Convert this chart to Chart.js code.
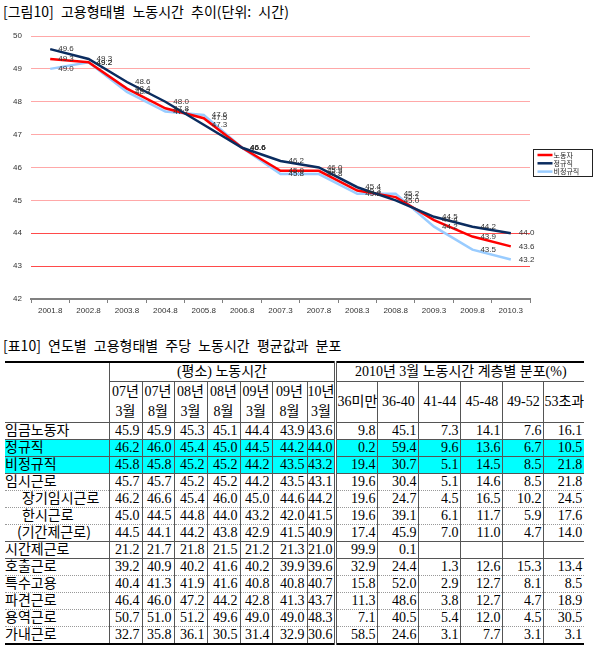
<!DOCTYPE html>
<html><head><meta charset="utf-8">
<script src="https://cdn.jsdelivr.net/npm/chart.js@4.4.1/dist/chart.umd.min.js"></script>
<style>
html,body{margin:0;padding:0;}
body{width:598px;height:648px;background:#fff;position:relative;overflow:hidden;font-family:"Liberation Serif","Noto Sans CJK KR",serif;color:#000;}
.ttl{position:absolute;left:3px;font-size:14px;line-height:16px;white-space:nowrap;word-spacing:4px;font-family:"Noto Sans CJK KR",sans-serif;}
#wrap{position:absolute;left:0;top:20px;width:598px;height:305px;}
table{position:absolute;left:5px;top:361px;border-collapse:collapse;table-layout:fixed;font-size:14px;border-top:2px solid #000;border-bottom:2px solid #000;}
td{padding:0 2px 0 0;white-space:nowrap;overflow:hidden;text-align:right;height:16px;line-height:16px;border-left:1px solid #555;border-top:1px dotted #999;}
td.lab{text-align:left;border-left:none;font-family:"Noto Sans CJK KR",sans-serif;padding:0;overflow:visible;}
td.lab span{display:block;height:16px;line-height:16px;transform:translateY(-2px);}
td.first{border-left:1px solid #555;}
td.sep{border-left:3px double #555;}
tr.solid td{border-top:1px solid #555;}
tr.cy td{background:#00ffff;}
tr.h1 td{height:18px;line-height:18px;text-align:center;border-top:none;border-bottom:1px solid #555;padding:0;}
tr.h2 td{height:40px;line-height:20px;text-align:center;border-top:1px solid #555;border-bottom:1px solid #555;padding:0;}
td.hl{border-left:none;}
</style></head>
<body>
<div class="ttl" style="top:3px">[그림10] 고용형태별 노동시간 추이(단위: 시간)</div>
<div id="wrap"><canvas id="c1" width="598" height="305"></canvas></div>
<div class="ttl" style="top:337px">[표10] 연도별 고용형태별 주당 노동시간 평균값과 분포</div>
<table id="tbl"></table>
<script>
// ---------- chart data ----------
const categories = ['2001.8','2002.8','2003.8','2004.8','2005.8','2006.8','2007.3','2007.8','2008.3','2008.8','2009.3','2009.8','2010.3'];
const seriesNames = ['노동자','정규직','비정규직'];
const workers    = [49.3,49.2,48.4,47.8,47.5,46.6,45.9,45.9,45.3,45.1,44.4,43.9,43.6];
const regular    = [49.6,49.3,48.6,48.0,47.3,46.6,46.2,46.0,45.4,45.0,44.5,44.2,44.0];
const nonRegular = [49.0,49.2,48.3,47.7,47.6,46.6,45.8,45.8,45.2,45.2,44.2,43.5,43.2];
const yMin = 42, yMax = 50, yStep = 1;

// ---------- table data ----------
const periodHeaders = [['07년','3월'],['07년','8월'],['08년','3월'],['08년','8월'],['09년','3월'],['09년','8월'],['10년','3월']];
const bandHeaders = ['36미만','36-40','41-44','45-48','49-52','53초과'];
const groupHeaders = ['(평소) 노동시간','2010년 3월 노동시간 계층별 분포(%)'];
const rowLabels = ['임금노동자','정규직','비정규직','임시근로','장기임시근로','한시근로','(기간제근로)','시간제근로','호출근로','특수고용','파견근로','용역근로','가내근로'];
const rowHours = [
 [45.9,45.9,45.3,45.1,44.4,43.9,43.6],
 [46.2,46.0,45.4,45.0,44.5,44.2,44.0],
 [45.8,45.8,45.2,45.2,44.2,43.5,43.2],
 [45.7,45.7,45.2,45.2,44.2,43.5,43.1],
 [46.2,46.6,45.4,46.0,45.0,44.6,44.2],
 [45.0,44.5,44.8,44.0,43.2,42.0,41.5],
 [44.5,44.1,44.2,43.8,42.9,41.5,40.9],
 [21.2,21.7,21.8,21.5,21.2,21.3,21.0],
 [39.2,40.9,40.2,41.6,40.2,39.9,39.6],
 [40.4,41.3,41.9,41.6,40.8,40.8,40.7],
 [46.4,46.0,47.2,44.2,42.8,41.3,43.7],
 [50.7,51.0,51.2,49.6,49.0,49.0,48.3],
 [32.7,35.8,36.1,30.5,31.4,32.9,30.6]
];
const rowBands = [
 [9.8,45.1,7.3,14.1,7.6,16.1],
 [0.2,59.4,9.6,13.6,6.7,10.5],
 [19.4,30.7,5.1,14.5,8.5,21.8],
 [19.6,30.4,5.1,14.6,8.5,21.8],
 [19.6,24.7,4.5,16.5,10.2,24.5],
 [19.6,39.1,6.1,11.7,5.9,17.6],
 [17.4,45.9,7.0,11.0,4.7,14.0],
 [99.9,0.1,null,null,null,null],
 [32.9,24.4,1.3,12.6,15.3,13.4],
 [15.8,52.0,2.9,12.7,8.1,8.5],
 [11.3,48.6,3.8,12.7,4.7,18.9],
 [7.1,40.5,5.4,12.0,4.5,30.5],
 [58.5,24.6,3.1,7.7,3.1,3.1]
];

// ---------- build table ----------
(function(){
  const colW = [104,33,32,33,33,32,35,28,42,41,42,42,41,40];
  const indent = {4:17,5:17,6:12};
  const cyanRows = [1,2];
  const solidAbove = [1,2,3,7,8];
  let h = '<colgroup>' + colW.map(w=>'<col style="width:'+w+'px">').join('') + '</colgroup>';
  h += '<tr class="h1"><td class="lab hl" rowspan="2" style="border-bottom:1px solid #555"></td><td class="first" colspan="7">'+groupHeaders[0]+'</td><td class="sep" colspan="6">'+groupHeaders[1]+'</td></tr>';
  h += '<tr class="h2">';
  periodHeaders.forEach((p,i)=>{ h += '<td'+(i===0?' class="first"':'')+'>'+p[0]+'<br>'+p[1]+'</td>'; });
  bandHeaders.forEach((b,i)=>{ h += '<td'+(i===0?' class="sep"':'')+'>'+b+'</td>'; });
  h += '</tr>';
  rowLabels.forEach((lab,r)=>{
    const cls = [];
    if (cyanRows.includes(r)) cls.push('cy');
    if (solidAbove.includes(r)) cls.push('solid');
    h += '<tr class="'+cls.join(' ')+'"><td class="lab" style="padding-left:'+(indent[r]||0)+'px"><span>'+lab+'</span></td>';
    rowHours[r].forEach((v,i)=>{ h += '<td'+(i===0?' class="first"':'')+'>'+v.toFixed(1)+'</td>'; });
    rowBands[r].forEach((v,i)=>{ h += '<td'+(i===0?' class="sep"':'')+'>'+(v===null?'':v.toFixed(1))+'</td>'; });
    h += '</tr>';
  });
  document.getElementById('tbl').innerHTML = h;
})();

// ---------- chart ----------
const valueLabels = {
  id:'valueLabels',
  afterDatasetsDraw(chart){
    const ctx = chart.ctx;
    ctx.save();
    ctx.font = '8px "Liberation Sans", Arial, sans-serif';
    ctx.fillStyle = '#333';
    ctx.textBaseline = 'middle';
    ctx.textAlign = 'left';
    chart.data.datasets.forEach((ds,i)=>{
      const meta = chart.getDatasetMeta(i);
      meta.data.forEach((pt,j)=>{ ctx.fillText(ds.data[j].toFixed(1), pt.x+8, pt.y); });
    });
    ctx.restore();
  }
};
const boxLegend = {
  id:'boxLegend',
  afterDraw(chart){
    const ctx = chart.ctx, a = chart.chartArea;
    const x = a.right + 3.5, y = 129.5, w = 59, h = 27;
    ctx.save();
    ctx.strokeStyle = '#222'; ctx.lineWidth = 1;
    ctx.strokeRect(x, y, w, h);
    ctx.font = '7px "Noto Sans CJK KR", sans-serif';
    ctx.textBaseline = 'middle'; ctx.textAlign = 'left'; ctx.fillStyle = '#222';
    chart.data.datasets.forEach((ds,i)=>{
      const yy = y + 5.5 + i*8.3;
      ctx.strokeStyle = ds.borderColor; ctx.lineWidth = 2.5;
      ctx.beginPath(); ctx.moveTo(x+4, yy); ctx.lineTo(x+19, yy); ctx.stroke();
      ctx.fillText(ds.label, x+20, yy);
    });
    ctx.restore();
  }
};

new Chart(document.getElementById('c1'), {
  type:'line',
  data:{
    labels: categories,
    datasets:[
      {label:seriesNames[0], data:workers, borderColor:'#ff0000', backgroundColor:'#ff0000', borderWidth:2.5, pointRadius:0, tension:0, order:1},
      {label:seriesNames[1], data:regular, borderColor:'#0b2c5f', backgroundColor:'#0b2c5f', borderWidth:2.5, pointRadius:0, tension:0, order:0},
      {label:seriesNames[2], data:nonRegular, borderColor:'#99ccff', backgroundColor:'#99ccff', borderWidth:2.5, pointRadius:0, tension:0, order:2}
    ]
  },
  options:{
    responsive:false, animation:false, devicePixelRatio:1,
    layout:{padding:{top:16,right:68,left:0,bottom:0}},
    plugins:{legend:{display:false}, tooltip:{enabled:false}, title:{display:false}},
    scales:{
      x:{
        offset:true,
        afterFit(s){ s.height = 26; },
        grid:{offset:true, drawOnChartArea:false, drawTicks:true, tickLength:4, color:'#808080', lineWidth:1},
        border:{display:true, color:'#808080', width:2},
        ticks:{font:{family:'"Liberation Sans", Arial, sans-serif', size:8}, color:'#333', padding:3, maxRotation:0, autoSkip:false}
      },
      y:{
        min:yMin, max:yMax,
        afterFit(s){ s.width = 31; },
        grid:{drawTicks:false, color:(c)=>{ const v=c.tick.value; if (v===yMin) return 'rgba(0,0,0,0)'; return (v===43||v===44)?'#ff4a4a':'#ffa8a8'; }, lineWidth:1},
        border:{display:false},
        ticks:{stepSize:yStep, padding:9, font:{family:'"Liberation Sans", Arial, sans-serif', size:8}, color:'#333'}
      }
    }
  },
  plugins:[valueLabels, boxLegend]
});
</script>
</body></html>
